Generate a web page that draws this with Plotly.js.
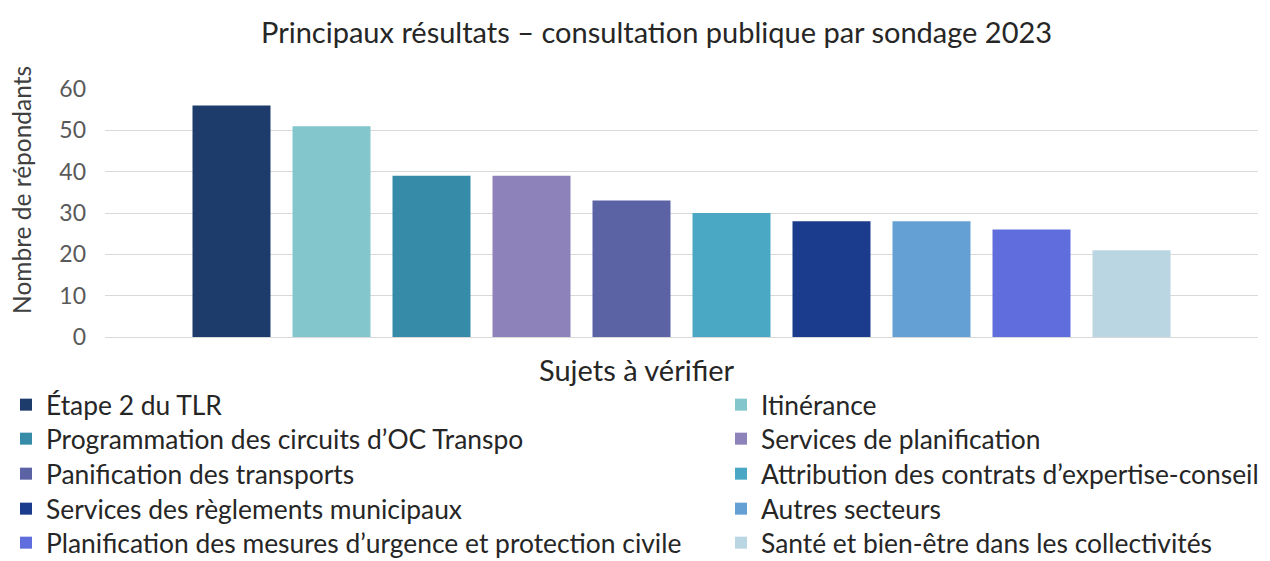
<!DOCTYPE html>
<html><head><meta charset="utf-8">
<script src="https://cdn.plot.ly/plotly-3.0.1.min.js"></script>
<style>html,body{margin:0;padding:0;background:#fff}#chart{width:1270px;height:561px}</style>
</head><body><div id="chart"></div>
<script>
const categories = [
  "Étape 2 du TLR",
  "Itinérance",
  "Programmation des circuits d’OC Transpo",
  "Services de planification",
  "Panification des transports",
  "Attribution des contrats d’expertise-conseil",
  "Services des règlements municipaux",
  "Autres secteurs",
  "Planification des mesures d’urgence et protection civile",
  "Santé et bien-être dans les collectivités"
];
const values = [56, 51, 39, 39, 33, 30, 28, 28, 26, 21];
const colors = ["#1d3c6c","#83c7cc","#368ba9","#8e82ba","#5b63a5","#4aa8c4","#1b3c8c","#65a0d5","#606edd","#bad6e2"];
const yTicks = [0, 10, 20, 30, 40, 50, 60];

const FONT = "Lato, 'Open Sans', sans-serif";
const legendId = i => (i === 0 ? "legend" : "legend" + (i + 1));
const traces = categories.map((c, i) => ({
  type: "bar",
  name: c,
  x: [c],
  y: [values[i]],
  width: 0.78,
  marker: {color: colors[i]},
  legend: legendId(i),
  hoverinfo: "name+y"
}));

const legendFont = {family: FONT, size: 26.4, color: "#262626"};
// legend grid placement (two columns, five rows), in container pixels
const colX = [6, 721];
const rowY = [405, 439, 474, 509, 543];

const layout = {
  width: 1270, height: 561,
  paper_bgcolor: "#fff", plot_bgcolor: "#fff",
  margin: {l: 105, r: 12, t: 89, b: 224, autoexpand: false},
  font: {family: FONT, color: "#262626"},
  barmode: "overlay",
  title: {
    text: "Principaux résultats – consultation publique par sondage 2023",
    font: {family: FONT, size: 29, color: "#262626"},
    x: 0.517, xanchor: "center", xref: "container",
    y: 0.941, yanchor: "middle", yref: "container"
  },
  xaxis: {
    type: "category",
    categoryorder: "array", categoryarray: categories,
    range: [-1.265, 10.265],
    showticklabels: false, showgrid: false, zeroline: false, showline: false,
    ticks: "", fixedrange: true
  },
  yaxis: {
    range: [0, 60],
    tickvals: yTicks,
    ticktext: yTicks.map(String),
    tickfont: {family: FONT, size: 23, color: "#595959"},
    ticklabelstandoff: 18,
    showgrid: true, gridcolor: "#d9d9d9", gridwidth: 1,
    zeroline: true, zerolinecolor: "#d9d9d9", zerolinewidth: 1,
    showline: false, ticks: "", fixedrange: true
  },
  showlegend: true,
  annotations: [
    {
      text: "Nombre de répondants",
      xref: "paper", yref: "paper",
      x: -0.072, y: 0.593, xanchor: "center", yanchor: "middle",
      textangle: -90, showarrow: false,
      font: {family: FONT, size: 24.5, color: "#404040"}
    },
    {
      text: "Sujets à vérifier",
      xref: "paper", yref: "paper",
      x: 0.461, y: -0.133, xanchor: "center", yanchor: "middle",
      showarrow: false,
      font: {family: FONT, size: 29, color: "#262626"}
    }
  ]
};

categories.forEach((c, i) => {
  layout[legendId(i)] = {
    orientation: "v",
    xref: "container", yref: "container",
    x: colX[i % 2] / 1270, xanchor: "left",
    y: 1 - rowY[Math.floor(i / 2)] / 561, yanchor: "middle",
    font: legendFont,
    bgcolor: "rgba(0,0,0,0)"
  };
});

Plotly.newPlot("chart", traces, layout, {displayModeBar: false, staticPlot: true});
</script>
</body></html>
